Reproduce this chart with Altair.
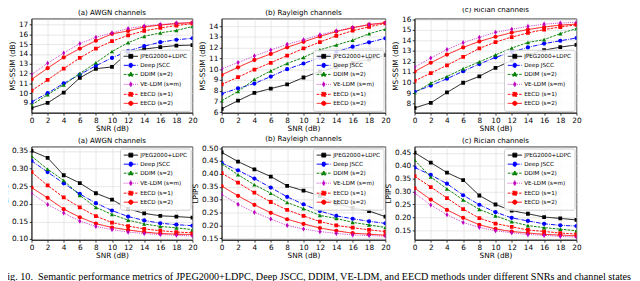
import altair as alt
import pandas as pd

snr = [0, 2, 4, 6, 8, 10, 12, 14, 16, 18, 20]
methods = ["JPEG2000+LDPC", "Deep JSCC", "DDIM (s=2)", "VE-LDM (s=m)", "EECD (s=1)", "EECD (s=2)"]
colors = ["#000000", "#0000ff", "#008000", "#bf00bf", "#ff0000", "#ff0000"]

# MS-SSIM (dB)
awgn_msssim = {
    "JPEG2000+LDPC": [8.49, 9.0, 10.06, 11.56, 12.49, 12.68, 14.15, 14.5, 14.7, 14.86, 14.9],
    "Deep JSCC": [9.1, 10.0, 11.0, 11.9, 12.8, 13.6, 14.3, 14.8, 15.2, 15.45, 15.6],
    "DDIM (s=2)": [8.8, 9.85, 10.85, 12.0, 13.1, 14.25, 15.15, 15.8, 16.15, 16.4, 16.8],
    "VE-LDM (s=m)": [11.9, 13.05, 14.1, 15.05, 15.7, 16.15, 16.6, 16.85, 17.0, 17.15, 17.2],
    "EECD (s=1)": [10.25, 11.35, 12.5, 13.6, 14.55, 15.3, 15.9, 16.35, 16.65, 16.9, 17.1],
    "EECD (s=2)": [11.4, 12.55, 13.65, 14.55, 15.35, 16.05, 16.35, 16.75, 16.95, 17.1, 17.2],
}
rayleigh_msssim = {
    "JPEG2000+LDPC": [6.32, 7.07, 7.8, 8.2, 8.58, 9.23, 9.8, 10.2, 10.6, 10.9, 11.3],
    "Deep JSCC": [7.72, 8.22, 8.67, 9.32, 10.0, 10.53, 11.07, 11.6, 12.1, 12.5, 12.87],
    "DDIM (s=2)": [7.07, 7.93, 9.05, 9.85, 10.53, 11.1, 11.8, 12.25, 12.7, 13.3, 13.73],
    "VE-LDM (s=m)": [10.03, 10.62, 11.24, 11.78, 12.31, 12.73, 13.2, 13.56, 13.88, 14.15, 14.3],
    "EECD (s=1)": [8.58, 9.26, 9.97, 10.6, 11.27, 11.93, 12.52, 13.1, 13.58, 13.94, 14.27],
    "EECD (s=2)": [9.47, 10.18, 10.86, 11.42, 12.04, 12.55, 13.05, 13.5, 13.85, 14.15, 14.32],
}
rician_msssim = {
    "JPEG2000+LDPC": [7.61, 8.09, 9.07, 9.99, 10.6, 11.4, 12.09, 12.65, 13.07, 13.36, 13.57],
    "Deep JSCC": [9.13, 9.72, 10.37, 11.08, 11.76, 12.39, 12.89, 13.33, 13.69, 13.96, 14.22],
    "DDIM (s=2)": [9.04, 9.96, 10.58, 11.32, 11.97, 12.62, 13.27, 13.8, 14.07, 14.64, 15.11],
    "VE-LDM (s=m)": [11.47, 12.33, 13.13, 13.78, 14.28, 14.76, 15.05, 15.32, 15.53, 15.64, 15.7],
    "EECD (s=1)": [10.16, 10.9, 11.64, 12.44, 13.24, 13.84, 14.31, 14.7, 15.02, 15.26, 15.47],
    "EECD (s=2)": [11.05, 11.88, 12.65, 13.33, 13.9, 14.34, 14.73, 15.02, 15.26, 15.44, 15.53],
}
# LPIPS
awgn_lpips = {
    "JPEG2000+LDPC": [0.35, 0.3305, 0.281, 0.259, 0.230, 0.212, 0.186, 0.173, 0.166, 0.164, 0.161],
    "Deep JSCC": [0.322, 0.29, 0.258, 0.228, 0.202, 0.181, 0.164, 0.153, 0.145, 0.141, 0.138],
    "DDIM (s=2)": [0.335, 0.298, 0.266, 0.224, 0.190, 0.17, 0.154, 0.143, 0.136, 0.132, 0.127],
    "VE-LDM (s=m)": [0.23, 0.198, 0.174, 0.151, 0.136, 0.127, 0.12, 0.116, 0.113, 0.111, 0.109],
    "EECD (s=1)": [0.29, 0.252, 0.218, 0.19, 0.165, 0.147, 0.137, 0.129, 0.124, 0.12, 0.118],
    "EECD (s=2)": [0.246, 0.217, 0.185, 0.162, 0.144, 0.133, 0.126, 0.12, 0.116, 0.114, 0.113],
}
rayleigh_lpips = {
    "JPEG2000+LDPC": [0.484, 0.448, 0.418, 0.39, 0.354, 0.335, 0.315, 0.285, 0.268, 0.256, 0.234],
    "Deep JSCC": [0.443, 0.414, 0.382, 0.347, 0.311, 0.282, 0.256, 0.237, 0.226, 0.216, 0.208],
    "DDIM (s=2)": [0.44, 0.397, 0.358, 0.325, 0.289, 0.265, 0.239, 0.227, 0.212, 0.202, 0.192],
    "VE-LDM (s=m)": [0.321, 0.282, 0.251, 0.225, 0.2, 0.186, 0.176, 0.169, 0.163, 0.161, 0.158],
    "EECD (s=1)": [0.403, 0.366, 0.327, 0.291, 0.26, 0.237, 0.215, 0.2, 0.191, 0.183, 0.176],
    "EECD (s=2)": [0.353, 0.315, 0.28, 0.249, 0.224, 0.206, 0.19, 0.179, 0.17, 0.166, 0.162],
}
rician_lpips = {
    "JPEG2000+LDPC": [0.452, 0.413, 0.374, 0.345, 0.285, 0.25, 0.226, 0.214, 0.201, 0.196, 0.19],
    "Deep JSCC": [0.394, 0.365, 0.331, 0.286, 0.249, 0.22, 0.198, 0.186, 0.175, 0.169, 0.166],
    "DDIM (s=2)": [0.423, 0.357, 0.311, 0.268, 0.231, 0.206, 0.183, 0.168, 0.16, 0.154, 0.148],
    "VE-LDM (s=m)": [0.294, 0.248, 0.21, 0.18, 0.161, 0.148, 0.14, 0.133, 0.13, 0.126, 0.123],
    "EECD (s=1)": [0.36, 0.318, 0.275, 0.232, 0.197, 0.176, 0.163, 0.151, 0.145, 0.139, 0.135],
    "EECD (s=2)": [0.314, 0.269, 0.229, 0.198, 0.171, 0.155, 0.145, 0.139, 0.134, 0.131, 0.128],
}

msssim_ticks_a = [9, 10, 11, 12, 13, 14, 15, 16, 17]
msssim_ticks_b = [6, 7, 8, 9, 10, 11, 12, 13, 14]
msssim_ticks_c = [8, 9, 10, 11, 12, 13, 14, 15, 16]
lpips_ticks_a = [0.10, 0.15, 0.20, 0.25, 0.30, 0.35]
lpips_ticks_b = [0.15, 0.20, 0.25, 0.30, 0.35, 0.40, 0.45, 0.50]
lpips_ticks_c = [0.15, 0.20, 0.25, 0.30, 0.35, 0.40, 0.45]

caption = ("Fig. 10.\u00a0 Semantic performance metrics of JPEG2000+LDPC, Deep JSCC, DDIM, "
           "VE-LDM, and EECD methods under different SNRs and channel states")

# styling
dashes = [[1, 0], [4.8, 1.2, 0.75, 1.2], [2.8, 1.2], [0.75, 1.25], [2.8, 1.2], [1, 0]]
marker_groups = [
    ("square", 16, ["JPEG2000+LDPC", "EECD (s=1)"]),
    ("circle", 20, ["Deep JSCC", "EECD (s=2)"]),
    ("triangle-up", 20, ["DDIM (s=2)"]),
    ("M0,-1L0.6,0L0,1L-0.6,0Z", 30, ["VE-LDM (s=m)"]),
]
# legend symbols: line segment (with dash pattern) + marker, in symbol units (1 unit = 3px)
seg_solid = "M-1,0H4"
seg_dashdot = "M-1,0H0.6M1,0H1.25M1.65,0H3.25M3.65,0H3.9"
seg_dashed = "M-1,0H-0.07M0.33,0H1.27M1.67,0H2.6M3,0H3.93"
seg_dotted = "M-1,0h0.25m0.42,0h0.25m0.42,0h0.25m0.42,0h0.25m0.42,0h0.25m0.42,0h0.25m0.42,0h0.25m0.42,0h0.25"
mk_square = "M0.8,-0.7H2.2V0.7H0.8Z"
mk_circle = "M0.75,0A0.75,0.75 0 1,0 2.25,0A0.75,0.75 0 1,0 0.75,0Z"
mk_tri = "M1.5,-0.8L2.3,0.6H0.7Z"
mk_diam = "M1.5,-0.95L2.05,0L1.5,0.95L0.95,0Z"
legend_paths = [seg_solid + mk_square, seg_dashdot + mk_circle, seg_dashed + mk_tri,
                seg_dotted + mk_diam, seg_dashed + mk_square, seg_solid + mk_circle]


def panel(values, title, ytitle, ydomain, yticks, yfmt, legend_orient, width, height):
    rows = []
    for m in methods:
        for s, v in zip(snr, values[m]):
            rows.append({"snr": s, "series": m, "v": v})
    df = pd.DataFrame(rows)
    base = alt.Chart(df)
    x = alt.X("snr:Q", scale=alt.Scale(domain=[0, 20], nice=False, zero=False),
              axis=alt.Axis(values=snr, format="d", title="SNR (dB)"))
    y = alt.Y("v:Q", scale=alt.Scale(domain=ydomain, nice=False, zero=False),
              axis=alt.Axis(values=yticks, format=yfmt, title=ytitle))
    col = alt.Color("series:N", scale=alt.Scale(domain=methods, range=colors), legend=None)
    leg = alt.Legend(title=None, orient=legend_orient, offset=2, padding=3.5,
                     fillColor="rgba(255,255,255,0.85)", strokeColor="#cccccc", cornerRadius=2,
                     labelFont="DejaVu Sans", labelFontSize=6, labelColor="black",
                     symbolSize=36, symbolStrokeWidth=1, symbolOpacity=1,
                     labelOffset=11, rowPadding=0.6)
    # invisible layer that only carries the legend (must be first in the layer)
    legend_layer = base.mark_point(filled=True, opacity=0, clip=True).encode(
        x=x, y=y,
        shape=alt.Shape("series:N", scale=alt.Scale(domain=methods, range=legend_paths), legend=leg),
        fill=alt.Fill("series:N", scale=alt.Scale(domain=methods, range=colors), legend=leg),
        stroke=alt.Stroke("series:N", scale=alt.Scale(domain=methods, range=colors), legend=leg),
    )
    lines = base.mark_line(strokeWidth=1, clip=True).encode(
        x=x, y=y, color=col,
        strokeDash=alt.StrokeDash("series:N", scale=alt.Scale(domain=methods, range=dashes), legend=None),
    )
    layers = [legend_layer, lines]
    for shp, sz, members in marker_groups:
        layers.append(
            base.transform_filter(alt.FieldOneOfPredicate(field="series", oneOf=members))
            .mark_point(filled=True, shape=shp, size=sz, opacity=1, clip=True)
            .encode(x=x, y=y, color=col)
        )
    return alt.layer(*layers).properties(
        width=width, height=height,
        title=alt.Title(title, fontSize=7.5, font="DejaVu Sans", fontWeight="normal", offset=2,
                        color="black", frame="group"),
    )


ind = dict(color="independent", shape="independent", strokeDash="independent",
           fill="independent", stroke="independent")

panels = [
    panel(awgn_msssim, "(a) AWGN channels", "MS-SSIM (dB)", [8.0, 17.6], msssim_ticks_a, "d", "bottom-right", 171, 100),
    panel(rayleigh_msssim, "(b) Rayleigh channels", "MS-SSIM (dB)", [5.95, 14.7], msssim_ticks_b, "d", "bottom-right", 174, 100),
    panel(rician_msssim, "(c) Rician channels", "MS-SSIM (dB)", [7.15, 16.05], msssim_ticks_c, "d", "bottom-right", 172, 100),
    panel(awgn_lpips, "(a) AWGN channels", "LPIPS", [0.098, 0.362], lpips_ticks_a, ".2f", "top-right", 171, 99),
    panel(rayleigh_lpips, "(b) Rayleigh channels", "LPIPS", [0.144, 0.506], lpips_ticks_b, ".2f", "top-right", 174, 99),
    panel(rician_lpips, "(c) Rician channels", "LPIPS", [0.1125, 0.475], lpips_ticks_c, ".2f", "top-right", 172, 99),
]

chart = alt.concat(
    *panels, columns=3, spacing={"row": 36, "column": 31}, bounds="flush", align="each",
).resolve_scale(**ind).resolve_legend(**ind).properties(
    title=alt.Title(caption, orient="bottom", anchor="start", font="Liberation Serif", fontSize=10.8,
                    fontWeight="normal", color="black", offset=12.5, dx=0),
    padding={"left": -7, "top": -11.5, "right": 0, "bottom": 0},
).configure_view(stroke="black", strokeWidth=0.8).configure_axis(
    labelFont="DejaVu Sans", titleFont="DejaVu Sans", labelFontSize=7.8, titleFontSize=7.8,
    labelColor="black", titleColor="black", titleFontWeight="normal", tickColor="black",
    domainColor="black", domainWidth=0.8, tickWidth=0.8, tickSize=2.5, labelPadding=1.5,
    titlePadding=2, gridColor="#d6d6d6", gridWidth=0.6, labelFlush=False,
).configure_axisX(titlePadding=1.5)

chart.save("out.html", embed_options={"renderer": "svg", "actions": False})
